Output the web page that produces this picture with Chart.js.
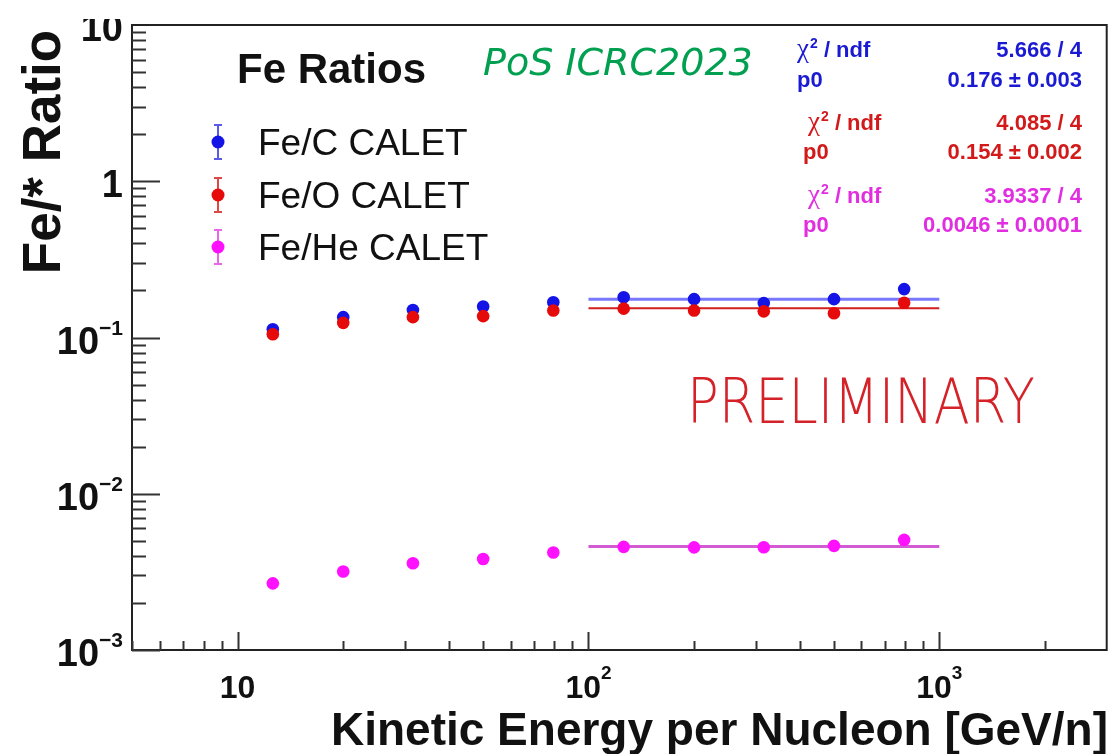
<!DOCTYPE html>
<html>
<head>
<meta charset="utf-8">
<script src="https://cdn.jsdelivr.net/npm/chart.js@4.4.0/dist/chart.umd.min.js"></script>
<style>
  html, body { margin: 0; padding: 0; background: #fff; }
  #wrap { width: 1113px; height: 754px; }
</style>
</head>
<body>
<div id="wrap"><canvas id="ratioChart" width="1113" height="754"></canvas></div>
<script>

// =====================================
// DATA
// =====================================

const energy = [12.6, 20.0, 31.6, 50.1, 79.4, 126, 200, 316, 501, 794];

const feC  = [0.113, 0.135, 0.150, 0.158, 0.168, 0.181, 0.176, 0.166, 0.176, 0.204];
const feO  = [0.105, 0.124, 0.135, 0.137, 0.149, 0.153, 0.149, 0.147, 0.143, 0.167];
const feHe = [0.00267, 0.00318, 0.00359, 0.00382, 0.00421, 0.00457, 0.00454, 0.00455, 0.00464, 0.00507];

const fitRange = [100, 1000];
const fitC  = 0.176;
const fitO  = 0.154;
const fitHe = 0.0046;

const seriesNames = ["Fe/C CALET", "Fe/O CALET", "Fe/He CALET"];

const xTickValues = [10, 100, 1000];
const xTickLabels = [["10", ""], ["10", "2"], ["10", "3"]];

const yTickValues = [10, 1, 0.1, 0.01, 0.001];
const yTickLabels = [["10", ""], ["1", ""], ["10", "\u22121"], ["10", "\u22122"], ["10", "\u22123"]];

const statsC  = ["5.666 / 4", "0.176 \u00b1 0.003"];
const statsO  = ["4.085 / 4", "0.154 \u00b1 0.002"];
const statsHe = ["3.9337 / 4", "0.0046 \u00b1 0.0001"];

const BLUE = "#1414e6";
const RED = "#e60a0a";
const MAGENTA = "#ff10ff";

const SANS = '"Liberation Sans", Arial, Helvetica, sans-serif';

function toPoints(xs, ys){
    return xs.map((x, i) => ({ x: x, y: ys[i] }));
}

function fitLine(v){
    return [{ x: fitRange[0], y: v }, { x: fitRange[1], y: v }];
}

// label like 10^n, base + raised exponent
function powLabel(ctx, base, exp, x, y, size, supSize, raise, align){
    ctx.font = "bold " + size + "px " + SANS;
    const wb = ctx.measureText(base).width;
    ctx.font = "bold " + supSize + "px " + SANS;
    const we = exp ? ctx.measureText(exp).width : 0;
    const total = wb + we;
    let x0 = x;
    if(align === "right") x0 = x - total;
    if(align === "center") x0 = x - total / 2;
    ctx.textAlign = "left";
    ctx.textBaseline = "alphabetic";
    ctx.font = "bold " + size + "px " + SANS;
    ctx.fillText(base, x0, y);
    if(exp){
        ctx.font = "bold " + supSize + "px " + SANS;
        ctx.fillText(exp, x0 + wb, y - raise);
    }
}

function chiLabel(ctx, x, y, color){
    ctx.fillStyle = color;
    ctx.textAlign = "left";
    ctx.font = '27px "Liberation Serif", "Times New Roman", serif';
    ctx.fillText("\u03c7", x, y);
    let w = ctx.measureText("\u03c7").width;
    ctx.font = "bold 14px " + SANS;
    ctx.fillText("2", x + w + 1, y - 9);
    w += ctx.measureText("2").width + 1;
    ctx.font = "bold 22px " + SANS;
    ctx.fillText(" / ndf", x + w, y);
}

function statsBlock(ctx, vals, color, xChi, xP0, y1, y2){
    chiLabel(ctx, xChi, y1, color);
    ctx.fillStyle = color;
    ctx.font = "bold 22px " + SANS;
    ctx.textAlign = "left";
    ctx.fillText("p0", xP0, y2);
    ctx.textAlign = "right";
    ctx.fillText(vals[0], 1082, y1);
    ctx.fillText(vals[1], 1082, y2);
}

// =====================================
// FRAME, TICKS AND TEXT (ROOT style)
// =====================================

const rootStyle = {
    id: "rootStyle",
    afterDraw(chart){
        const ctx = chart.ctx;
        const a = chart.chartArea;
        const xs = chart.scales.x;
        const ys = chart.scales.y;

        ctx.save();

        // frame
        ctx.strokeStyle = "#222";
        ctx.lineWidth = 2;
        ctx.strokeRect(a.left, a.top, a.right - a.left, a.bottom - a.top);

        // y ticks (inside, pointing right)
        ctx.strokeStyle = "#333";
        ctx.beginPath();
        for(let d = -3; d <= 0; d++){
            for(let m = 1; m <= 9; m++){
                const v = m * Math.pow(10, d);
                const py = Math.round(ys.getPixelForValue(v)) + 0.5;
                const len = (m === 1) ? 28 : 14;
                ctx.moveTo(a.left, py);
                ctx.lineTo(a.left + len, py);
            }
        }
        ctx.stroke();

        // x ticks (inside, pointing up)
        ctx.beginPath();
        for(let d = 0; d <= 3; d++){
            for(let m = 1; m <= 9; m++){
                const v = m * Math.pow(10, d);
                if(v < xs.min || v >= xs.max) continue;
                const px = Math.round(xs.getPixelForValue(v)) + 0.5;
                const len = (m === 1) ? 18 : 9;
                ctx.moveTo(px, a.bottom);
                ctx.lineTo(px, a.bottom - len);
            }
        }
        ctx.stroke();

        // tick labels
        ctx.fillStyle = "#111";
        xTickValues.forEach((v, i) => {
            const px = xs.getPixelForValue(v);
            powLabel(ctx, xTickLabels[i][0], xTickLabels[i][1], px, 698, 32, 19, 19, "center");
        });

        yTickValues.forEach((v, i) => {
            const py = ys.getPixelForValue(v);
            ctx.save();
            if(i === 0){
                ctx.beginPath();
                ctx.rect(0, 19, 200, 100);
                ctx.clip();
            }
            powLabel(ctx, yTickLabels[i][0], yTickLabels[i][1], 123, py + 16, 38, 21, 19, "right");
            ctx.restore();
        });

        // axis titles
        ctx.fillStyle = "#111";
        ctx.font = "bold 46px " + SANS;
        ctx.textAlign = "right";
        ctx.textBaseline = "alphabetic";
        ctx.fillText("Kinetic Energy per Nucleon [GeV/n]", 1108, 745);

        ctx.save();
        ctx.translate(60, 152);
        ctx.rotate(-Math.PI / 2);
        ctx.font = "bold 53px " + SANS;
        ctx.textAlign = "center";
        ctx.fillText("Fe/* Ratio", 0, 0);
        ctx.restore();

        // legend
        ctx.font = "bold 42px " + SANS;
        ctx.textAlign = "left";
        ctx.fillText("Fe Ratios", 237, 83);

        const legColors = [BLUE, RED, MAGENTA];
        const legBars = ["#5a5ae6", "#e04848", "#e868e8"];
        const legY = [142, 195, 247];
        legY.forEach((y, i) => {
            ctx.strokeStyle = legBars[i];
            ctx.lineWidth = 2;
            ctx.beginPath();
            ctx.moveTo(218, y - 17); ctx.lineTo(218, y + 17);
            ctx.moveTo(214, y - 17); ctx.lineTo(222, y - 17);
            ctx.moveTo(214, y + 17); ctx.lineTo(222, y + 17);
            ctx.stroke();
            ctx.fillStyle = legColors[i];
            ctx.beginPath();
            ctx.arc(218, y, 6.5, 0, Math.PI * 2);
            ctx.fill();
            ctx.fillStyle = "#111";
            ctx.font = "37px " + SANS;
            ctx.fillText(seriesNames[i], 258, y + 13);
        });

        // watermark
        ctx.fillStyle = "#00a050";
        ctx.font = 'italic 38px "DejaVu Sans", sans-serif';
        ctx.textAlign = "left";
        ctx.fillText("PoS ICRC2023", 483, 75);

        // fit statistics
        statsBlock(ctx, statsC, "#1a1ad2", 797, 797, 57, 87);
        statsBlock(ctx, statsO, "#d21a1a", 808, 803, 130, 159);
        statsBlock(ctx, statsHe, "#e02ee0", 808, 803, 203, 232);

        // PRELIMINARY
        ctx.save();
        ctx.font = '200 62px "DejaVu Sans", sans-serif';
        const pw = ctx.measureText("PRELIMINARY").width;
        ctx.translate(687, 423);
        ctx.scale(348 / pw, 1);
        ctx.fillStyle = "#d42228";
        ctx.textAlign = "left";
        ctx.fillText("PRELIMINARY", 0, 0);
        ctx.restore();

        ctx.restore();
    }
};

// =====================================
// CHART
// =====================================

const ratioChart =
new Chart(

    document.getElementById("ratioChart"),

    {
        type: "scatter",

        data: {
            datasets: [
                {
                    label: seriesNames[1],
                    data: toPoints(energy, feO),
                    backgroundColor: RED,
                    borderWidth: 0,
                    pointRadius: 6.3,
                    order: 0
                },
                {
                    label: seriesNames[0],
                    data: toPoints(energy, feC),
                    backgroundColor: BLUE,
                    borderWidth: 0,
                    pointRadius: 6.3,
                    order: 1
                },
                {
                    label: seriesNames[2],
                    data: toPoints(energy, feHe),
                    backgroundColor: MAGENTA,
                    borderWidth: 0,
                    pointRadius: 6.3,
                    order: 2
                },
                {
                    label: "fit C",
                    data: fitLine(fitC),
                    showLine: true,
                    borderColor: "#7878ff",
                    borderWidth: 3,
                    pointRadius: 0,
                    order: 5
                },
                {
                    label: "fit O",
                    data: fitLine(fitO),
                    showLine: true,
                    borderColor: "#d21e1e",
                    borderWidth: 2,
                    pointRadius: 0,
                    order: 5
                },
                {
                    label: "fit He",
                    data: fitLine(fitHe),
                    showLine: true,
                    borderColor: "#d25ad2",
                    borderWidth: 3,
                    pointRadius: 0,
                    order: 5
                }
            ]
        },

        options: {
            responsive: false,
            animation: false,
            devicePixelRatio: 1,
            layout: {
                padding: { left: 132, top: 25, right: 5, bottom: 104 }
            },
            scales: {
                x: { type: "logarithmic", min: 5, max: 3000, display: false },
                y: { type: "logarithmic", min: 0.001, max: 10, display: false }
            },
            plugins: {
                legend: { display: false },
                tooltip: { enabled: false }
            }
        },

        plugins: [rootStyle]
    }
);

</script>
</body>
</html>
